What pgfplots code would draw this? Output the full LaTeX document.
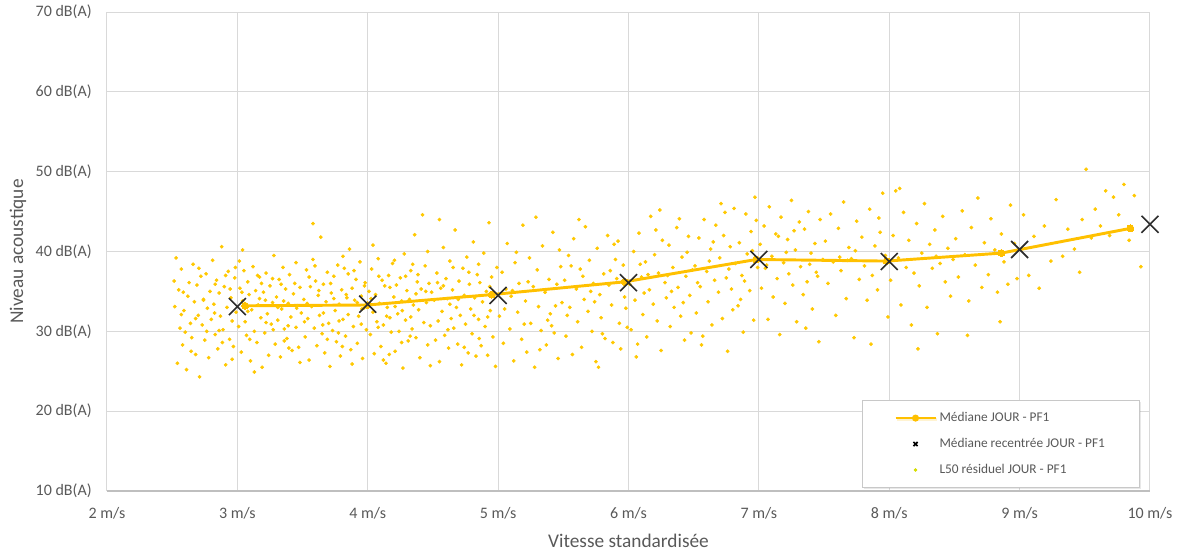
\documentclass[border=0pt]{standalone}
\usepackage{pgfplots}
\pgfplotsset{compat=1.18}
\usepackage{pgfplotstable}
\usepackage{fontspec}
\setmainfont{Carlito}
\usetikzlibrary{shadows}
\definecolor{gold}{RGB}{255,192,0}
\definecolor{dotc}{RGB}{255,200,0}
\definecolor{limec}{RGB}{214,222,0}
\definecolor{txt}{RGB}{89,89,89}
\definecolor{gridc}{RGB}{217,217,217}
\definecolor{xmk}{RGB}{45,45,45}
\definecolor{legbd}{RGB}{200,200,200}
\definecolor{axc}{RGB}{191,191,191}

\pgfplotstableread{
x y
2.52 33.1
2.54 26.0
2.55 35.2
2.56 30.4
2.57 37.8
2.58 28.3
2.59 32.6
2.61 25.2
2.62 34.4
2.63 36.1
2.64 31.0
2.65 29.2
2.66 38.4
2.67 33.7
2.68 27.1
2.69 35.8
2.70 32.0
2.71 24.3
2.72 36.9
2.73 30.8
2.74 34.0
2.75 28.9
2.76 37.2
2.77 32.9
2.78 26.7
2.79 35.0
2.80 31.5
2.81 38.9
2.82 33.4
2.83 29.6
2.84 36.4
2.85 27.8
2.86 34.8
2.87 31.9
2.88 40.6
2.89 30.2
2.90 35.6
2.91 25.8
2.92 33.0
2.93 37.5
2.94 29.0
2.95 34.2
2.96 31.3
2.97 28.1
2.98 36.7
2.99 32.4
2.53 39.2
2.60 29.9
2.68 31.6
2.74 33.9
2.83 35.9
2.91 37.0
2.96 26.5
2.57 32.1
2.86 30.1
2.515 36.3
2.585 34.9
2.645 27.5
2.705 37.9
2.765 30.0
2.825 32.3
2.885 28.6
2.945 35.3
2.985 38.0
3.01 30.6
3.02 35.4
3.03 27.4
3.04 33.8
3.05 37.6
3.06 31.2
3.07 29.5
3.08 36.2
3.09 34.6
3.10 26.3
3.11 32.7
3.12 38.1
3.13 30.0
3.14 35.1
3.15 28.6
3.16 33.3
3.17 36.8
3.18 31.7
3.19 25.5
3.20 34.9
3.21 29.8
3.22 37.3
3.23 32.2
3.24 27.0
3.25 35.7
3.26 30.9
3.27 33.6
3.28 39.5
3.29 28.4
3.30 34.3
3.31 31.4
3.32 36.5
3.33 26.8
3.34 32.8
3.35 38.0
3.36 30.3
3.37 35.3
3.38 29.1
3.39 33.5
3.40 37.1
3.41 31.8
3.42 27.6
3.43 34.7
3.44 36.0
3.45 30.5
3.46 33.2
3.47 28.0
3.48 35.5
3.49 32.3
3.04 40.2
3.13 24.9
3.22 31.1
3.31 33.0
3.39 30.7
3.45 38.6
3.08 32.5
3.17 34.1
3.27 36.6
3.36 28.8
3.48 26.1
3.035 34.9
3.095 29.0
3.155 37.0
3.215 33.9
3.275 30.2
3.335 35.9
3.395 27.9
3.455 32.9
3.015 38.8
3.185 36.0
3.355 33.8
3.515 31.2
3.51 34.0
3.52 29.3
3.53 37.7
3.54 31.6
3.55 26.4
3.56 35.6
3.57 33.1
3.58 39.0
3.59 30.4
3.60 36.3
3.61 28.2
3.62 34.5
3.63 32.0
3.64 41.8
3.65 29.7
3.66 35.9
3.67 27.3
3.68 33.7
3.69 37.4
3.70 31.0
3.71 25.6
3.72 34.8
3.73 30.1
3.74 36.9
3.75 32.6
3.76 28.7
3.77 38.3
3.78 33.4
3.79 26.9
3.80 35.2
3.81 31.5
3.82 37.9
3.83 29.4
3.84 34.2
3.85 32.1
3.86 40.3
3.87 27.7
3.88 35.4
3.89 30.6
3.90 33.9
3.91 36.5
3.92 28.5
3.93 31.9
3.94 38.7
3.95 34.4
3.96 26.6
3.97 32.9
3.98 36.1
3.99 30.2
3.58 43.5
3.66 32.3
3.74 34.1
3.81 39.4
3.88 25.9
3.95 30.9
3.55 36.8
3.69 29.0
3.78 31.3
3.85 37.2
3.92 33.6
3.535 33.5
3.595 38.2
3.655 30.8
3.715 36.0
3.775 29.8
3.835 34.6
3.895 37.6
3.955 32.8
3.625 35.1
3.805 28.1
3.975 35.7
4.01 35.0
4.02 29.6
4.03 37.8
4.04 32.4
4.05 27.2
4.06 34.6
4.07 31.2
4.08 39.1
4.09 33.5
4.10 28.1
4.11 36.4
4.12 30.8
4.13 35.7
4.14 26.0
4.15 33.0
4.16 37.0
4.17 31.7
4.18 29.9
4.19 38.5
4.20 34.3
4.21 27.5
4.22 35.8
4.23 32.2
4.24 30.0
4.25 36.7
4.26 33.8
4.27 25.4
4.28 39.7
4.29 31.4
4.30 35.1
4.31 28.8
4.32 34.0
4.33 37.6
4.34 30.3
4.35 33.3
4.36 42.1
4.37 29.2
4.38 36.2
4.39 32.7
4.40 26.7
4.41 35.3
4.42 44.6
4.43 31.1
4.44 38.2
4.45 33.6
4.46 28.3
4.47 36.0
4.48 30.7
4.49 34.9
4.04 40.8
4.12 26.4
4.21 33.1
4.29 36.9
4.37 34.7
4.46 40.0
4.08 30.5
4.17 35.5
4.26 28.6
4.33 31.8
4.48 25.7
4.025 34.1
4.085 36.9
4.145 31.9
4.205 38.9
4.265 32.6
4.325 29.4
4.385 37.1
4.445 35.0
4.165 27.1
4.345 38.4
4.51 33.9
4.52 28.9
4.53 37.3
4.54 31.3
4.55 26.2
4.56 35.4
4.57 32.5
4.58 40.5
4.59 29.5
4.60 36.6
4.61 34.1
4.62 27.9
4.63 38.8
4.64 31.6
4.65 35.2
4.66 30.4
4.67 42.7
4.68 33.0
4.69 28.4
4.70 36.3
4.71 32.0
4.72 25.8
4.73 37.9
4.74 34.5
4.75 30.9
4.76 39.3
4.77 27.3
4.78 35.9
4.79 32.8
4.80 29.7
4.81 41.2
4.82 34.2
4.83 26.9
4.84 37.1
4.85 31.5
4.86 36.1
4.87 28.2
4.88 33.7
4.89 39.8
4.90 30.6
4.91 35.0
4.92 27.0
4.93 43.6
4.94 32.6
4.95 36.8
4.96 29.3
4.97 34.8
4.98 25.6
4.99 38.0
4.55 44.0
4.63 33.4
4.74 28.0
4.85 38.4
4.92 31.8
4.58 35.7
4.535 36.1
4.615 30.2
4.695 34.0
4.775 37.4
4.855 29.1
4.935 35.6
4.655 38.0
4.815 32.0
5.01 31.9
5.03 37.4
5.04 28.5
5.06 35.3
5.07 41.0
5.09 30.3
5.10 34.4
5.12 26.3
5.13 38.6
5.15 32.4
5.16 36.0
5.18 29.0
5.19 43.3
5.21 33.8
5.22 27.4
5.24 39.2
5.25 31.0
5.27 35.6
5.28 25.5
5.30 37.7
5.31 33.1
5.33 30.1
5.34 40.7
5.36 34.9
5.37 28.3
5.39 36.5
5.40 32.2
5.42 42.4
5.43 29.8
5.45 35.9
5.46 26.6
5.48 38.1
5.49 33.6
5.05 32.8
5.14 39.9
5.23 36.2
5.32 27.7
5.41 30.7
5.47 40.2
5.11 35.1
5.29 44.3
5.38 31.4
5.20 30.9
5.44 33.2
5.51 36.4
5.52 29.4
5.54 39.5
5.55 33.0
5.57 27.1
5.58 41.6
5.60 35.3
5.61 31.2
5.63 37.8
5.64 28.0
5.66 34.0
5.67 43.1
5.69 32.5
5.70 38.9
5.72 30.0
5.73 36.0
5.75 26.2
5.76 40.4
5.78 34.6
5.79 31.7
5.81 37.2
5.82 29.1
5.84 42.0
5.85 35.8
5.87 33.3
5.88 28.6
5.90 39.0
5.91 36.6
5.93 31.0
5.94 27.8
5.96 38.3
5.97 34.3
5.99 30.5
5.53 32.0
5.62 44.0
5.71 35.0
5.80 29.7
5.89 40.9
5.98 32.9
5.65 36.9
5.77 25.5
5.86 37.6
5.56 38.2
5.74 33.7
5.92 41.3
6.01 35.9
6.02 30.2
6.04 40.0
6.05 33.9
6.07 28.4
6.08 42.3
6.10 36.8
6.11 32.1
6.13 38.7
6.14 29.3
6.16 35.2
6.17 44.4
6.19 33.4
6.20 39.6
6.22 31.3
6.23 37.3
6.25 27.6
6.26 41.4
6.28 36.1
6.29 34.2
6.31 40.8
6.32 30.6
6.34 38.0
6.35 33.0
6.37 43.0
6.38 35.5
6.40 31.9
6.41 39.3
6.43 28.9
6.44 36.9
6.46 41.9
6.47 34.5
6.49 37.7
6.06 26.8
6.15 37.1
6.24 45.2
6.33 35.0
6.42 33.6
6.48 29.8
6.09 38.4
6.21 42.7
6.30 37.0
6.39 44.1
6.12 34.8
6.45 39.9
6.51 38.2
6.52 32.3
6.54 41.7
6.55 35.6
6.57 29.4
6.58 44.0
6.60 37.5
6.61 33.7
6.63 40.3
6.64 30.8
6.66 36.4
6.67 43.3
6.69 34.9
6.70 39.2
6.72 31.6
6.73 42.0
6.75 36.7
6.76 27.5
6.78 40.6
6.79 35.3
6.81 45.4
6.82 38.5
6.84 33.2
6.85 41.1
6.87 37.0
6.88 29.9
6.90 44.7
6.91 39.7
6.93 35.1
6.94 42.5
6.96 31.4
6.97 46.8
6.99 38.0
6.53 36.1
6.62 38.8
6.71 46.0
6.80 32.7
6.89 36.3
6.98 43.9
6.56 28.3
6.65 41.2
6.77 37.8
6.86 34.0
6.95 40.1
6.74 44.9
7.01 40.9
7.02 35.4
7.04 43.2
7.05 37.9
7.07 31.5
7.08 45.6
7.10 39.4
7.11 34.3
7.13 42.2
7.14 36.6
7.16 29.6
7.17 44.3
7.19 38.6
7.20 33.5
7.22 41.5
7.23 37.2
7.25 46.4
7.26 35.8
7.28 40.2
7.29 31.2
7.31 43.7
7.32 38.1
7.34 34.6
7.35 42.8
7.37 36.2
7.38 45.0
7.40 39.8
7.41 32.8
7.43 41.0
7.44 37.4
7.46 28.7
7.47 44.0
7.49 39.0
7.06 38.3
7.15 41.9
7.27 42.6
7.36 30.4
7.45 36.9
7.21 39.9
7.39 38.4
7.51 41.3
7.53 36.0
7.55 44.7
7.57 38.7
7.59 32.0
7.61 42.9
7.63 37.6
7.65 46.2
7.67 34.1
7.69 40.5
7.71 39.1
7.73 29.2
7.75 43.8
7.77 36.5
7.79 41.8
7.81 38.2
7.83 33.9
7.85 45.3
7.87 37.0
7.89 40.7
7.91 35.2
7.93 42.4
7.95 47.3
7.97 39.5
7.99 31.8
7.62 39.3
7.74 40.1
7.86 28.4
7.92 44.2
7.68 38.9
8.01 36.4
8.03 42.0
8.05 47.6
8.07 39.2
8.09 33.3
8.11 44.9
8.13 38.0
8.15 41.4
8.17 30.8
8.19 37.3
8.21 43.5
8.23 35.7
8.25 39.8
8.27 46.0
8.29 33.0
8.31 40.9
8.33 37.9
8.35 42.7
8.37 29.7
8.39 38.5
8.41 44.4
8.43 36.2
8.45 40.4
8.47 34.4
8.49 39.0
8.08 47.9
8.22 27.8
8.36 39.4
8.51 41.6
8.53 36.8
8.56 45.1
8.58 39.6
8.61 33.8
8.63 43.0
8.66 38.3
8.68 46.7
8.71 35.5
8.73 41.1
8.76 37.1
8.78 44.1
8.81 40.2
8.83 34.9
8.86 42.2
8.88 38.7
8.91 35.9
8.93 45.8
8.96 41.0
8.98 36.6
8.60 29.5
8.85 31.2
9.03 44.6
9.07 37.0
9.11 41.9
9.15 35.4
9.19 43.2
9.24 38.8
9.28 46.5
9.33 39.4
9.37 42.8
9.42 40.3
9.46 37.4
9.48 44.0
9.51 50.3
9.55 41.7
9.58 45.3
9.62 43.2
9.66 47.6
9.69 42.0
9.72 46.8
9.76 44.6
9.80 48.4
9.84 41.4
9.88 47.0
9.93 38.1
}\scatterdata

\pgfplotstableread{
x y
3.06 33.2
4.00 33.3
4.95 34.6
5.97 36.2
6.98 39.0
7.98 38.8
8.86 39.8
9.85 42.9
}\mediane

\pgfplotstableread{
x y
3 33.1
4 33.4
5 34.5
6 36.1
7 39.0
8 38.75
9 40.25
10 43.4
}\recentree

\begin{document}
\begin{tikzpicture}
\path[use as bounding box] (-80.25pt,-48.75pt) rectangle (808.5pt,368.25pt);
\begin{axis}[
  at={(0pt,0pt)}, anchor=south west,
  scale only axis,
  width=782.25pt, height=359.25pt,
  xmin=2, xmax=10, ymin=10, ymax=70,
  xtick={2,3,...,10},
  xticklabels={2 m/s,3 m/s,4 m/s,5 m/s,6 m/s,7 m/s,8 m/s,9 m/s,10 m/s},
  ytick={10,20,...,70},
  yticklabels={10 dB(A),20 dB(A),30 dB(A),40 dB(A),50 dB(A),60 dB(A),70 dB(A)},
  major tick length=0pt,
  axis x line*=bottom, axis y line*=left,
  x axis line style={draw=axc, line width=0.9pt, -},
  y axis line style={draw=none},
  grid=major,
  major grid style={draw=gridc, line width=0.75pt},
  ticklabel style={font=\fontsize{12}{14}\selectfont, text=txt},
  xticklabel style={anchor=center, yshift=-17pt},
  yticklabel style={anchor=east, xshift=-8pt},
  xlabel={Vitesse standardisée},
  ylabel={Niveau acoustique},
  label style={font=\fontsize{14.5}{17}\selectfont, text=txt},
  xlabel style={at={(axis description cs:0.5,-0.1044)}, anchor=center},
  ylabel style={at={(axis description cs:-0.0853,0.5)}, anchor=center},
  clip=false,
  legend image code/.code={\draw[mark repeat=2,mark phase=2,#1] plot coordinates {(0pt,0pt) (15pt,0pt) (30pt,0pt)};},
  legend cell align=left,
  legend style={at={(axis description cs:0.9904,0.0063)}, anchor=south east,
    draw=legbd, line width=0.6pt, fill=white,
    font=\fontsize{10}{12}\selectfont, text=txt,
    inner xsep=24pt, inner ysep=7pt, row sep=7pt,
    drop shadow={opacity=0.18, shadow xshift=1.2pt, shadow yshift=-1.2pt}},
]
\addplot[only marks, color=dotc, mark=*, mark size=1.2pt, mark options={draw=none, fill=dotc}, forget plot] table[x=x,y=y] {\scatterdata};
\addplot[gold, line width=2.2pt, mark=*, mark size=2.6pt, mark options={fill=gold, draw=gold, line width=0pt}, forget plot] table[x=x,y=y] {\mediane};
\addplot[only marks, mark=x, mark size=9pt, mark options={draw=xmk, line width=1.2pt}, forget plot] table[x=x,y=y] {\recentree};
\addlegendimage{gold, line width=2pt, mark=*, mark size=1.6pt, mark options={fill=gold, draw=gold}}
\addlegendentry{Médiane JOUR - PF1}
\addlegendimage{only marks, mark=x, mark size=2.2pt, mark options={draw=black, line width=1.3pt}}
\addlegendentry{Médiane recentrée JOUR - PF1}
\addlegendimage{only marks, color=limec, mark=*, mark size=1pt, mark options={draw=none, fill=limec}}
\addlegendentry{L50 résiduel JOUR - PF1}
\end{axis}
\end{tikzpicture}
\end{document}
